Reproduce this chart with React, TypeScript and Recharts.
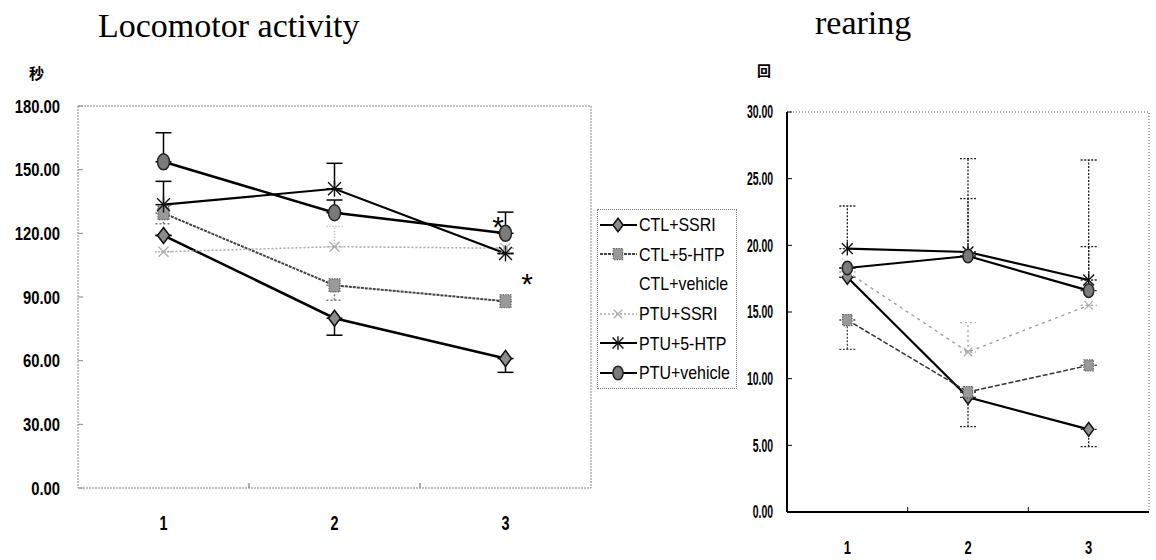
import React from 'react';
import { LineChart, Line, XAxis, YAxis, ErrorBar, Legend, ReferenceArea, ReferenceDot } from 'recharts';

const SANS = "'Liberation Sans', Arial, sans-serif";
const SERIF = "'Liberation Serif', 'DejaVu Serif', serif";
const CJK = "'Noto Sans CJK JP', 'Noto Sans CJK SC', sans-serif";

// x categories (session)
const groups = [1, 2, 3];
const seriesNames = ['CTL+SSRI', 'CTL+5-HTP', 'CTL+vehicle', 'PTU+SSRI', 'PTU+5-HTP', 'PTU+vehicle'];

// Locomotor activity (sec)
const locoTicks = [0, 30, 60, 90, 120, 150, 180];
const locoCtlSsri = [119, 80, 61];
const locoCtlHtp = [129.5, 95.5, 88];
const locoCtlVeh = [115, 84, 64];
const locoPtuSsri = [111.3, 113.7, 113];
const locoPtuHtp = [133.5, 141, 110.5];
const locoPtuVeh = [153.7, 129.7, 120];
// error bars as [below, above]
const locoCtlSsriErr = [[0, 0], [8, 0], [6.5, 0]];
const locoCtlHtpErr = [[5, 0], [7, 0], [0, 0]];
const locoPtuSsriErr = [[0, 0], [0, 9.5], [0, 0]];
const locoPtuHtpErr = [[0, 11], [0, 12], [0, 0]];
const locoPtuVehErr = [[0, 13.7], [0, 6], [0, 10]];
// significance marks
const locoStarX = [2.956, 3.126];
const locoStarY = [126.5, 99.2];

// rearing (count)
const rearTicks = [0, 5, 10, 15, 20, 25, 30];
const rearCtlSsri = [17.6, 8.6, 6.2];
const rearCtlHtp = [14.4, 9.0, 11.0];
const rearPtuSsri = [18.0, 12.0, 15.5];
const rearPtuHtp = [19.75, 19.5, 17.4];
const rearPtuVeh = [18.3, 19.2, 16.6];
const rearCtlSsriErr = [[0, 0], [2.2, 0], [1.3, 0]];
const rearCtlHtpErr = [[2.2, 0], [0, 0], [0, 0]];
const rearPtuSsriErr = [[0, 0], [0, 2.2], [0, 0]];
const rearPtuHtpErr = [[0, 3.2], [0, 7], [0, 9]];
const rearPtuVehErr = [[0, 0], [0, 4.3], [0, 3.3]];

const locoData = groups.map((g, i) => ({
  group: g,
  ctlSsri: locoCtlSsri[i], ctlSsriErr: locoCtlSsriErr[i],
  ctlHtp: locoCtlHtp[i], ctlHtpErr: locoCtlHtpErr[i],
  ctlVeh: locoCtlVeh[i],
  ptuSsri: locoPtuSsri[i], ptuSsriErr: locoPtuSsriErr[i],
  ptuHtp: locoPtuHtp[i], ptuHtpErr: locoPtuHtpErr[i],
  ptuVeh: locoPtuVeh[i], ptuVehErr: locoPtuVehErr[i],
}));

const rearData = groups.map((g, i) => ({
  group: g,
  ctlSsri: rearCtlSsri[i], ctlSsriErr: rearCtlSsriErr[i],
  ctlHtp: rearCtlHtp[i], ctlHtpErr: rearCtlHtpErr[i],
  ptuSsri: rearPtuSsri[i], ptuSsriErr: rearPtuSsriErr[i],
  ptuHtp: rearPtuHtp[i], ptuHtpErr: rearPtuHtpErr[i],
  ptuVeh: rearPtuVeh[i], ptuVehErr: rearPtuVehErr[i],
}));

type Shape = 'diamond' | 'square' | 'none' | 'cross' | 'star' | 'ellipse';

const Marker = ({ shape, cx, cy, s = 1 }: { shape: Shape; cx: number; cy: number; s?: number }) => {
  if (cx == null || cy == null) return <g />;
  switch (shape) {
    case 'diamond':
      return (
        <polygon
          points={`${cx},${cy - 8 * s} ${cx + 6 * s},${cy} ${cx},${cy + 8 * s} ${cx - 6 * s},${cy}`}
          fill="#8c8c8c" stroke="#111" strokeWidth={1.5}
        />
      );
    case 'square':
      return (
        <rect x={cx - 5.5 * s} y={cy - 6.5 * s} width={11 * s} height={13 * s}
          fill="#999" stroke="#666" strokeWidth={1.2} strokeDasharray="1.5 1" />
      );
    case 'ellipse':
      return <ellipse cx={cx} cy={cy} rx={6 * s} ry={8 * s} fill="#7a7a7a" stroke="#222" strokeWidth={1.5} />;
    case 'star': {
      const a = 8 * s;
      const d = a * 0.8;
      return (
        <g stroke="#111" strokeWidth={1.4}>
          <line x1={cx} x2={cx} y1={cy - a} y2={cy + a} />
          <line x1={cx - d} x2={cx + d} y1={cy - d} y2={cy + d} />
          <line x1={cx - d} x2={cx + d} y1={cy + d} y2={cy - d} />
        </g>
      );
    }
    case 'cross': {
      const a = 5 * s;
      return (
        <g stroke="#aaa" strokeWidth={1.2}>
          <line x1={cx - a} x2={cx + a} y1={cy - a} y2={cy + a} />
          <line x1={cx - a} x2={cx + a} y1={cy + a} y2={cy - a} />
        </g>
      );
    }
    default:
      return <g />;
  }
};

interface SeriesStyle {
  stroke: string;
  width: number;
  dash?: string;
  shape: Shape;
  err: string;
  errDash?: string;
}

const locoStyles: Record<string, SeriesStyle> = {
  ctlSsri: { stroke: '#000', width: 2.5, shape: 'diamond', err: '#000' },
  ctlHtp: { stroke: '#444', width: 2, dash: '3 1', shape: 'square', err: '#777', errDash: '2 2' },
  ctlVeh: { stroke: '#fff', width: 2, shape: 'none', err: '#fff' },
  ptuSsri: { stroke: '#aaa', width: 1.5, dash: '2 2', shape: 'cross', err: '#aaa', errDash: '1 2' },
  ptuHtp: { stroke: '#000', width: 2.2, shape: 'star', err: '#000' },
  ptuVeh: { stroke: '#000', width: 2.5, shape: 'ellipse', err: '#000' },
};

const rearStyles: Record<string, SeriesStyle> = {
  ctlSsri: { stroke: '#000', width: 2.2, shape: 'diamond', err: '#222', errDash: '2 1.5' },
  ctlHtp: { stroke: '#333', width: 1.5, dash: '5 2', shape: 'square', err: '#444', errDash: '2 1.5' },
  ptuSsri: { stroke: '#999', width: 1.3, dash: '3 4', shape: 'cross', err: '#aaa', errDash: '2 3' },
  ptuHtp: { stroke: '#000', width: 2.2, shape: 'star', err: '#222', errDash: '2 1.5' },
  ptuVeh: { stroke: '#000', width: 2.2, shape: 'ellipse', err: '#222', errDash: '2 1.5' },
};

const keyNames: Record<string, string> = {
  ctlSsri: 'CTL+SSRI', ctlHtp: 'CTL+5-HTP', ctlVeh: 'CTL+vehicle',
  ptuSsri: 'PTU+SSRI', ptuHtp: 'PTU+5-HTP', ptuVeh: 'PTU+vehicle',
};

// condensed text: the scan uses a narrow gothic face, so squeeze Liberation Sans horizontally
const NarrowText = ({ x, y, size, sx, anchor, children }: any) => (
  <text transform={`translate(${x},${y}) scale(${sx},1)`} x={0} y={0} dy="0.35em" textAnchor={anchor}
    fontSize={size} fontFamily={SANS} fontWeight={700} fill="#000">
    {children}
  </text>
);

const makeXTick = (labelOffset: number, fontSize: number, tickColor: string) => (props: any) => {
  const { x, y, payload } = props;
  if (!Number.isInteger(payload.value)) {
    return <line x1={x} x2={x} y1={y} y2={y - 5} stroke={tickColor} strokeWidth={1} />;
  }
  return <NarrowText x={x} y={y + labelOffset} size={fontSize} sx={0.72} anchor="middle">{payload.value}</NarrowText>;
};

const makeYTick = (gap: number, fontSize: number, tickColor: string, sx: number) => (props: any) => {
  const { x, y, payload } = props;
  return (
    <g>
      <line x1={x} x2={x + 5} y1={y} y2={y} stroke={tickColor} strokeWidth={1} />
      <NarrowText x={x - gap} y={y} size={fontSize} sx={sx} anchor="end">
        {Number(payload.value).toFixed(2)}
      </NarrowText>
    </g>
  );
};

const LocoLegend = (props: any) => {
  const items = [...(props.payload || [])].sort(
    (a: any, b: any) => seriesNames.indexOf(a.value) - seriesNames.indexOf(b.value)
  );
  return (
    <div style={{ width: 140, height: 180, border: '1px dotted #777', boxSizing: 'border-box', background: '#fff' }}>
      {items.map((it: any) => {
        const st = locoStyles[it.dataKey];
        const visible = st.shape !== 'none';
        return (
          <div key={it.value} style={{ display: 'flex', alignItems: 'center', height: 29.6 }}>
            <svg width={41} height={20} style={{ flex: 'none' }}>
              {visible && (
                <line x1={2} x2={39} y1={10} y2={10} stroke={st.stroke} strokeWidth={Math.min(st.width, 2)}
                  strokeDasharray={st.dash} />
              )}
              <Marker shape={st.shape} cx={20} cy={10} s={0.85} />
            </svg>
            <span style={{
              display: 'inline-block', fontFamily: SANS, fontSize: 19, color: '#000', whiteSpace: 'nowrap',
              lineHeight: 1, transform: 'scaleX(0.84)', transformOrigin: 'left center',
            }}>
              {it.value}
            </span>
          </div>
        );
      })}
    </div>
  );
};

const textAbs = (left: number, top: number, size: number, family: string, extra: React.CSSProperties = {}) => ({
  position: 'absolute' as const, left, top, fontSize: size, fontFamily: family, lineHeight: `${size}px`,
  color: '#000', whiteSpace: 'nowrap' as const, ...extra,
});

export default function App() {
  const locoKeys = ['ctlVeh', 'ctlSsri', 'ctlHtp', 'ptuSsri', 'ptuHtp', 'ptuVeh'];
  const rearKeys = ['ctlSsri', 'ctlHtp', 'ptuSsri', 'ptuHtp', 'ptuVeh'];

  return (
    <div style={{ position: 'absolute', left: 0, top: 0, width: 1156, height: 560, background: '#fff', overflow: 'hidden' }}>
      <div style={{ position: 'absolute', left: 0, top: 0 }}>
        <LineChart width={745} height={560} data={locoData} margin={{ top: 106, right: 154, bottom: 32, left: 18 }}>
          <ReferenceArea x1={0.5} x2={3.5} y1={0} y2={180} fill="none" stroke="#888" strokeWidth={1}
            strokeDasharray="2 1" ifOverflow="visible" />
          <XAxis dataKey="group" type="number" domain={[0.5, 3.5]} ticks={[1, 1.5, 2, 2.5, 3]} interval={0}
            height={40} axisLine={false} tickLine={false} tickSize={0} tickMargin={0}
            tick={makeXTick(35, 20, '#666')} />
          <YAxis type="number" domain={[0, 180]} ticks={locoTicks} interval={0} width={60}
            axisLine={false} tickLine={false} tickSize={0} tickMargin={0}
            tick={makeYTick(18, 19, '#888', 0.78)} />
          {locoKeys.map((k) => {
            const st = locoStyles[k];
            return (
              <Line key={k} dataKey={k} name={keyNames[k]} stroke={st.stroke} strokeWidth={st.width}
                strokeDasharray={st.dash} isAnimationActive={false} activeDot={false}
                dot={(p: any) => <Marker key={`${k}-${p.index}`} shape={st.shape} cx={p.cx} cy={p.cy} />}>
                {k !== 'ctlVeh' && (
                  <ErrorBar dataKey={`${k}Err`} direction="y" width={8} stroke={st.err} strokeWidth={1.5}
                    strokeDasharray={st.errDash} />
                )}
              </Line>
            );
          })}
          {locoStarX.map((sx, i) => (
            <ReferenceDot key={`star-${i}`} x={sx} y={locoStarY[i]} r={0} ifOverflow="visible"
              shape={(p: any) => (
                <text x={p.cx} y={p.cy + 17} textAnchor="middle" fontSize={30} fontFamily={SANS} fill="#000">
                  *
                </text>
              )} />
          ))}
          <Legend layout="vertical" align="center" verticalAlign="middle"
            wrapperStyle={{ left: 597, top: 209, width: 140, height: 180 }} content={LocoLegend} />
        </LineChart>
      </div>

      <div style={{ position: 'absolute', left: 745, top: 0 }}>
        <LineChart width={411} height={560} data={rearData} margin={{ top: 112, right: 7, bottom: 8, left: 6 }}>
          <ReferenceArea x1={0.5} x2={3.5} y1={0} y2={30} fill="none" stroke="#555" strokeWidth={1}
            strokeDasharray="1 2" ifOverflow="visible" />
          <XAxis dataKey="group" type="number" domain={[0.5, 3.5]} ticks={[1, 1.5, 2, 2.5, 3]} interval={0}
            height={40} axisLine={{ stroke: '#000', strokeWidth: 2 }} tickLine={false} tickSize={0} tickMargin={0}
            tick={makeXTick(36, 18, '#000')} />
          <YAxis type="number" domain={[0, 30]} ticks={rearTicks} interval={0} width={36}
            axisLine={{ stroke: '#000', strokeWidth: 2 }} tickLine={false} tickSize={0} tickMargin={0}
            tick={makeYTick(14, 18, '#000', 0.58)} />
          {rearKeys.map((k) => {
            const st = rearStyles[k];
            return (
              <Line key={k} dataKey={k} name={keyNames[k]} stroke={st.stroke} strokeWidth={st.width}
                strokeDasharray={st.dash} isAnimationActive={false} activeDot={false}
                dot={(p: any) => <Marker key={`${k}-${p.index}`} shape={st.shape} cx={p.cx} cy={p.cy} s={0.85} />}>
                <ErrorBar dataKey={`${k}Err`} direction="y" width={8} stroke={st.err} strokeWidth={1.3}
                  strokeDasharray={st.errDash} />
              </Line>
            );
          })}
        </LineChart>
      </div>

      <div style={textAbs(98, 8.5, 34, SERIF)}>Locomotor activity</div>
      <div style={textAbs(815, 5.5, 34, SERIF)}>rearing</div>
      <div style={textAbs(29, 65, 15, CJK, { fontWeight: 700 })}>秒</div>
      <div style={textAbs(757, 63, 14, CJK, { fontWeight: 700 })}>回</div>
    </div>
  );
}
